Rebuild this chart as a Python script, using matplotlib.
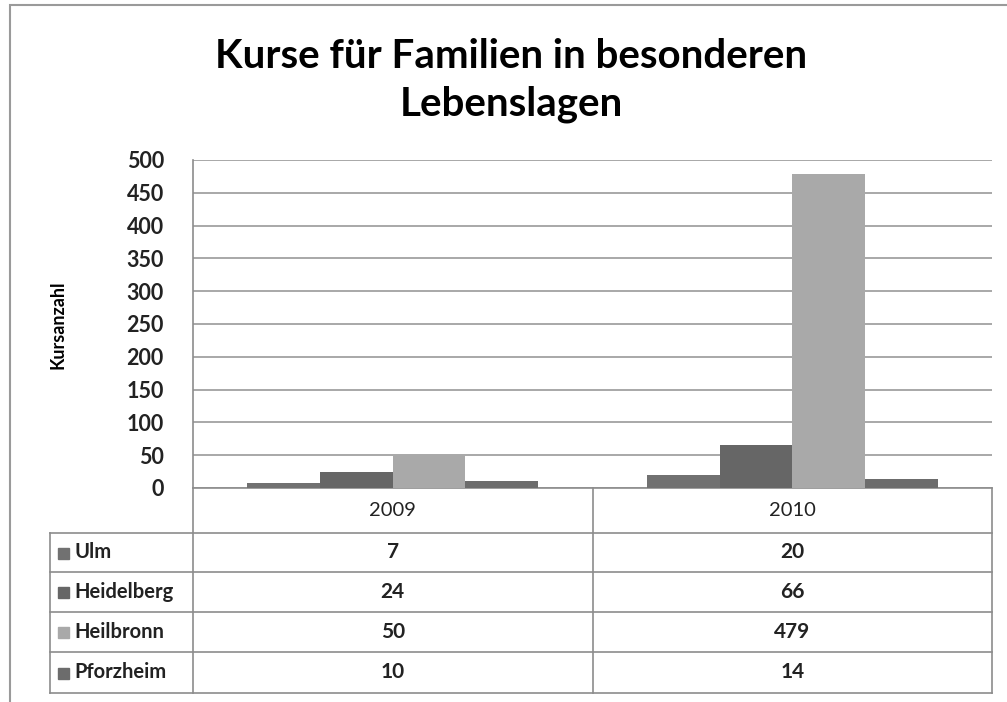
import matplotlib
matplotlib.use("Agg")
import matplotlib.pyplot as plt
from matplotlib.patches import Rectangle
from matplotlib.lines import Line2D
import numpy as np

# ---------------------------
# data
# ---------------------------
years = ["2009", "2010"]
cities = ["Ulm", "Heidelberg", "Heilbronn", "Pforzheim"]
ulm = [7, 20]
heidelberg = [24, 66]
heilbronn = [50, 479]
pforzheim = [10, 14]
values = [ulm, heidelberg, heilbronn, pforzheim]
colors = ["#717171", "#666666", "#a9a9a9", "#6c6c6c"]

plt.rcParams['font.family'] = ['Lato', 'DejaVu Sans']

W, H = 1007, 702
fig = plt.figure(figsize=(W / 100, H / 100), dpi=100)

def px(x, y):
    # pixel -> figure fraction
    return x / W, 1 - y / H

# plot area in pixels
L, R, T, B = 193, 992, 160, 488
ax = fig.add_axes([L / W, 1 - B / H, (R - L) / W, (B - T) / H])

# ---------------------------
# bars
# ---------------------------
x = np.arange(len(years))
w = 1 / 5.5
for i, (vals, c) in enumerate(zip(values, colors)):
    ax.bar(x + (i - 1.5) * w, vals, width=w, color=c, zorder=3)

ax.set_xlim(-0.5, len(years) - 0.5)
ax.set_ylim(0, 500)
ax.set_yticks(range(0, 501, 50))
ax.yaxis.grid(True, color="#9a9a9a", linewidth=1.2, zorder=0)
ax.set_xticks([])
ax.tick_params(axis='y', length=0, labelsize=15.5, pad=21)
for lbl in ax.get_yticklabels():
    lbl.set_fontweight('bold')
    lbl.set_color('#222222')
for s in ["top", "right"]:
    ax.spines[s].set_visible(False)
ax.spines["left"].set_color("#8c8c8c")
ax.spines["left"].set_linewidth(1.2)
ax.spines["bottom"].set_color("#8c8c8c")
ax.spines["bottom"].set_linewidth(1.2)

fig.text(*px(58, 325), "Kursanzahl", rotation=90, ha='center', va='center',
         fontsize=13, fontweight='bold')

fig.text(0.508, 1 - 57 / H, "Kurse für Familien in besonderen", ha='center', va='center',
         fontsize=29, fontweight='bold')
fig.text(0.508, 1 - 104 / H, "Lebenslagen", ha='center', va='center',
         fontsize=29, fontweight='bold')

# ---------------------------
# data table under the axis
# ---------------------------
tab_left = 50
col_x = [L, L + (R - L) / 2, R]
row_y = [B, 533, 572, 612, 652, 693]
line_c = "#8c8c8c"

def hline(x0, x1, y):
    a, b = px(x0, y)
    c, _ = px(x1, y)
    fig.add_artist(Line2D([a, c], [b, b], color=line_c, lw=1.2))

def vline(xx, y0, y1):
    a, b = px(xx, y0)
    _, d = px(xx, y1)
    fig.add_artist(Line2D([a, a], [b, d], color=line_c, lw=1.2))

for y in row_y[1:]:
    hline(tab_left, R, y)
for xx in col_x:
    vline(xx, B, row_y[-1])
vline(tab_left, row_y[1], row_y[-1])

for j, yr in enumerate(years):
    cx = (col_x[j] + col_x[j + 1]) / 2
    cy = (row_y[0] + row_y[1]) / 2
    fig.text(*px(cx, cy), yr, ha='center', va='center', fontsize=14.5, color='#222222')

for i, (city, vals, c) in enumerate(zip(cities, values, colors)):
    cy = (row_y[i + 1] + row_y[i + 2]) / 2
    sx, sy = px(58, cy + 6)
    fig.add_artist(Rectangle((sx, sy), 11 / W, 11 / H, color=c))
    fig.text(*px(74, cy), city, ha='left', va='center', fontsize=14.5, fontweight='bold',
             color='#222222')
    for j, v in enumerate(vals):
        cx = (col_x[j] + col_x[j + 1]) / 2
        fig.text(*px(cx, cy), str(v), ha='center', va='center', fontsize=15,
                 fontweight='bold', color='#222222')

# outer chart frame
fx, fy = px(10, 5)
fig.add_artist(Rectangle((fx, -0.1), 1.2, fy + 0.1, fill=False, edgecolor="#9a9a9a", lw=1.5))

fig.savefig("out.png", dpi=100, facecolor='white')
